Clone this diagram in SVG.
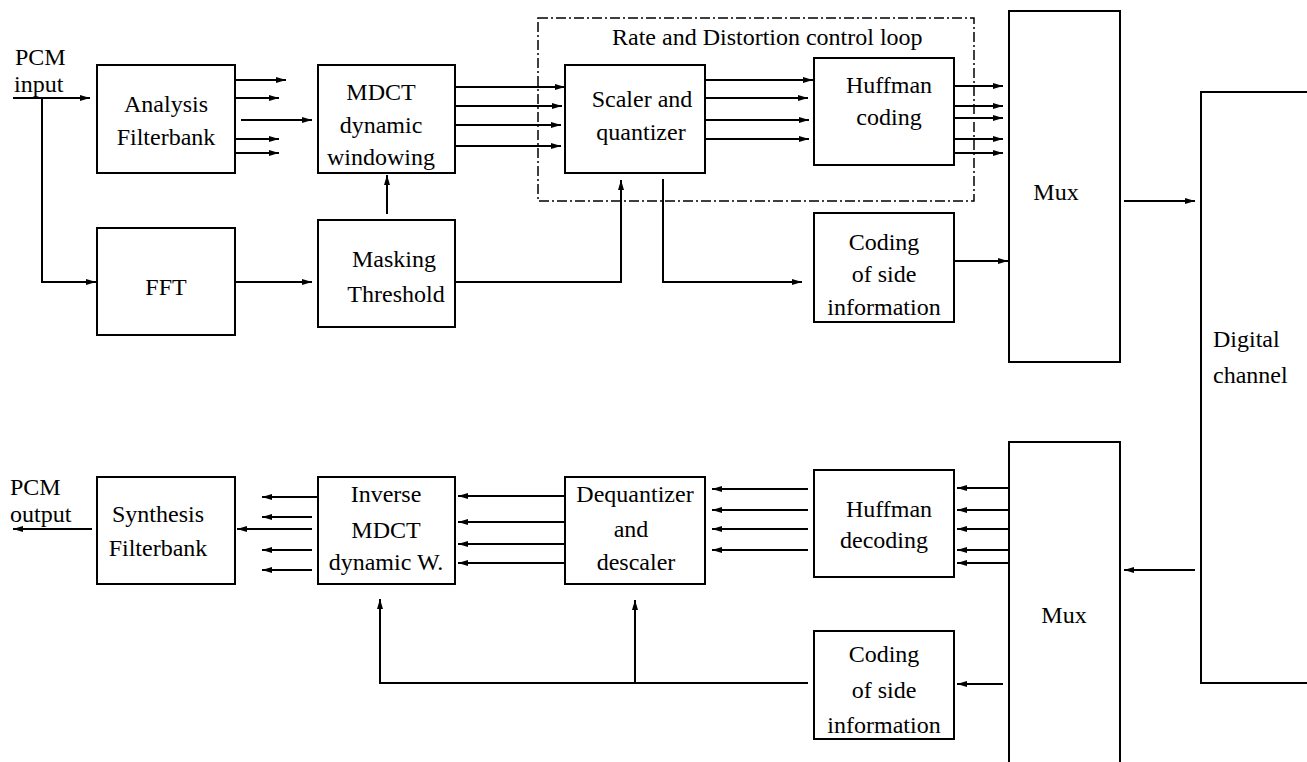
<svg xmlns="http://www.w3.org/2000/svg" width="1307" height="762" viewBox="0 0 1307 762">
<defs>
<style>
.box{fill:none;stroke:#000;stroke-width:2}
.ln{fill:none;stroke:#000;stroke-width:2}
.arr{marker-end:url(#ah)}
.dd{fill:none;stroke:#000;stroke-width:1.5;stroke-dasharray:10 3 2 3}
text{font-family:"Liberation Serif","Times New Roman",serif;font-size:24px;fill:#000}
.c{text-anchor:middle}
</style>
<marker id="ah" viewBox="0 0 10 8" refX="10" refY="4" markerWidth="10" markerHeight="8" markerUnits="userSpaceOnUse" orient="auto">
<path d="M0,1 L10,4 L0,7 Z" fill="#000"/>
</marker>
</defs>
<rect width="1307" height="762" fill="#fff"/>

<g id="loop">
<rect class="dd" x="538" y="18" width="436" height="183"/>
<text x="612" y="45">Rate and Distortion control loop</text>
</g>

<g id="pcm-input"><text x="15" y="65">PCM</text><text x="14" y="92">input</text></g>
<g id="analysis"><rect class="box" x="97" y="65" width="138" height="108"/><text class="c" x="166" y="112">Analysis</text><text class="c" x="166" y="145">Filterbank</text></g>
<g id="mdct"><rect class="box" x="318" y="65" width="137" height="108"/><text class="c" x="381" y="100">MDCT</text><text class="c" x="381" y="133">dynamic</text><text class="c" x="381" y="165">windowing</text></g>
<g id="fft"><rect class="box" x="97" y="228" width="138" height="107"/><text class="c" x="166" y="295">FFT</text></g>
<g id="masking"><rect class="box" x="318" y="220" width="137" height="107"/><text class="c" x="394" y="267">Masking</text><text class="c" x="396" y="302">Threshold</text></g>
<g id="scaler"><rect class="box" x="565" y="65" width="140" height="108"/><text class="c" x="642" y="107">Scaler and</text><text class="c" x="641" y="140">quantizer</text></g>
<g id="huffman"><rect class="box" x="814" y="58" width="140" height="107"/><text class="c" x="889" y="93">Huffman</text><text class="c" x="889" y="125">coding</text></g>
<g id="side-top"><rect class="box" x="814" y="213" width="140" height="109"/><text class="c" x="884" y="250">Coding</text><text class="c" x="884" y="282">of side</text><text class="c" x="884" y="315">information</text></g>
<g id="mux-top"><rect class="box" x="1009" y="11" width="111" height="351"/><text class="c" x="1056" y="200">Mux</text></g>
<g id="digital"><rect class="box" x="1201" y="92" width="120" height="591"/><text x="1213" y="347">Digital</text><text x="1213" y="383">channel</text></g>

<g id="pcm-output"><text x="10" y="495">PCM</text><text x="10" y="522">output</text></g>
<g id="synthesis"><rect class="box" x="97" y="477" width="138" height="107"/><text class="c" x="158" y="522">Synthesis</text><text class="c" x="158" y="556">Filterbank</text></g>
<g id="imdct"><rect class="box" x="318" y="477" width="137" height="107"/><text class="c" x="386" y="502">Inverse</text><text class="c" x="386" y="538">MDCT</text><text class="c" x="386" y="570">dynamic W.</text></g>
<g id="dequant"><rect class="box" x="565" y="477" width="140" height="107"/><text class="c" x="635" y="502">Dequantizer</text><text class="c" x="631" y="537">and</text><text class="c" x="636" y="570">descaler</text></g>
<g id="huffdec"><rect class="box" x="814" y="470" width="140" height="107"/><text class="c" x="889" y="517">Huffman</text><text class="c" x="884" y="548">decoding</text></g>
<g id="side-bottom"><rect class="box" x="814" y="631" width="140" height="108"/><text class="c" x="884" y="662">Coding</text><text class="c" x="884" y="698">of side</text><text class="c" x="884" y="733">information</text></g>
<g id="mux-bottom"><rect class="box" x="1009" y="442" width="111" height="360"/><text class="c" x="1064" y="623">Mux</text></g>

<g id="connectors">
<path class="ln arr" d="M13,98 H90"/>
<path class="ln arr" d="M42,98 V282 H96"/>
<path class="ln arr" d="M235,80 H286"/>
<path class="ln arr" d="M235,98 H279"/>
<path class="ln arr" d="M241,120 H312"/>
<path class="ln arr" d="M235,139 H279"/>
<path class="ln arr" d="M235,153 H279"/>
<path class="ln arr" d="M235,282 H312"/>
<path class="ln arr" d="M387,214 V175"/>
<path class="ln arr" d="M455,87 H565"/>
<path class="ln arr" d="M455,106 H562"/>
<path class="ln arr" d="M455,125 H561"/>
<path class="ln arr" d="M455,146 H561"/>
<path class="ln arr" d="M705,80 H813"/>
<path class="ln arr" d="M705,98 H808"/>
<path class="ln arr" d="M705,120 H809"/>
<path class="ln arr" d="M705,139 H809"/>
<path class="ln arr" d="M455,282 H621 V180"/>
<path class="ln arr" d="M663,179 V282 H802"/>
<path class="ln arr" d="M954,86 H1003"/>
<path class="ln arr" d="M954,106 H1003"/>
<path class="ln arr" d="M954,118 H1003"/>
<path class="ln arr" d="M954,139 H1003"/>
<path class="ln arr" d="M954,153 H1003"/>
<path class="ln arr" d="M954,261 H1008"/>
<path class="ln arr" d="M1124,201 H1195"/>
<path class="ln arr" d="M1195,570 H1124"/>
<path class="ln arr" d="M1009,488 H957"/>
<path class="ln arr" d="M1009,510 H957"/>
<path class="ln arr" d="M1009,529 H957"/>
<path class="ln arr" d="M1009,550 H957"/>
<path class="ln arr" d="M1009,563 H957"/>
<path class="ln arr" d="M1003,684 H957"/>
<path class="ln arr" d="M808,489 H712"/>
<path class="ln arr" d="M808,510 H712"/>
<path class="ln arr" d="M808,529 H712"/>
<path class="ln arr" d="M808,550 H712"/>
<path class="ln arr" d="M808,683 H380 V599"/>
<path class="ln arr" d="M635,683 V600"/>
<path class="ln arr" d="M565,496 H458"/>
<path class="ln arr" d="M565,522 H458"/>
<path class="ln arr" d="M565,544 H458"/>
<path class="ln arr" d="M565,563 H458"/>
<path class="ln arr" d="M318,497 H262"/>
<path class="ln arr" d="M312,517 H262"/>
<path class="ln arr" d="M312,529 H237"/>
<path class="ln arr" d="M312,550 H262"/>
<path class="ln arr" d="M312,570 H262"/>
<path class="ln arr" d="M92,529 H13"/>
</g>
</svg>
